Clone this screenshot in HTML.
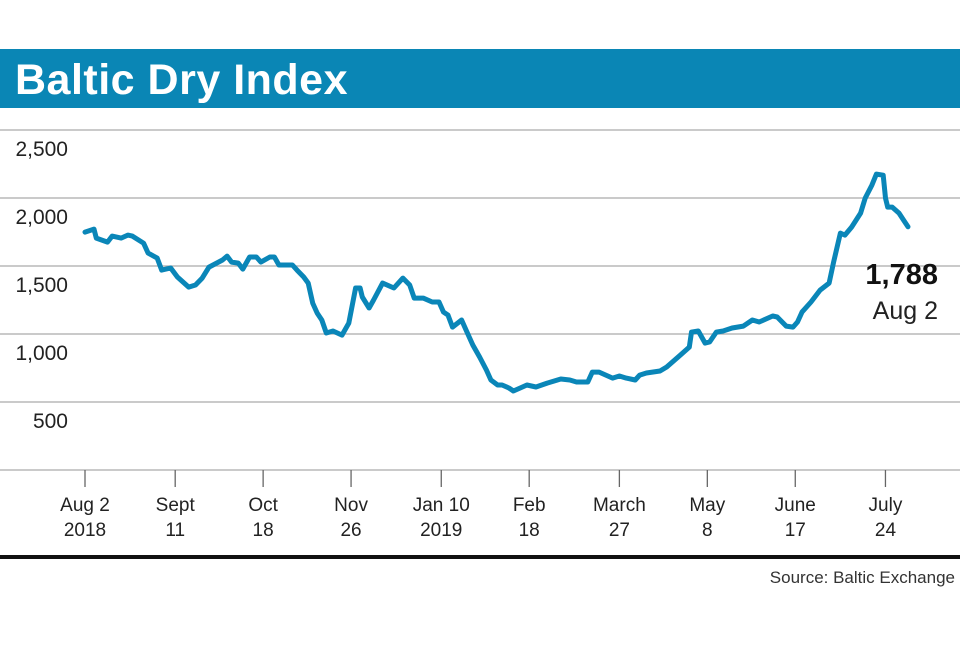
<!DOCTYPE html>
<html><head><meta charset="utf-8"><style>
body{margin:0;background:#fff;width:960px;height:640px;overflow:hidden;font-family:"Liberation Sans",sans-serif}
</style></head><body>
<svg width="960" height="640" xmlns="http://www.w3.org/2000/svg">
<rect x="0" y="49" width="960" height="59" fill="#0a86b5"/>
<text x="15" y="94" font-size="43" font-weight="bold" fill="#fff" letter-spacing="0.5">Baltic Dry Index</text>
<g id="grid"></g>
<g id="xaxis"></g>
<path id="line" fill="none" stroke="#0a86b8" stroke-width="5" stroke-linejoin="round" stroke-linecap="round"/>
<text x="938" y="284" font-size="29" font-weight="bold" fill="#111" text-anchor="end">1,788</text>
<text x="938" y="319" font-size="25" fill="#222" text-anchor="end">Aug 2</text>
<rect x="0" y="555" width="960" height="4" fill="#111"/>
<text x="955" y="583" font-size="17" fill="#333" text-anchor="end">Source: Baltic Exchange</text>
</svg>
<script>
const days=[0,4,5,10,12,16,19,21,26,28,32,34,38,41,46,49,52,55,61,63,65,68,70,73,76,78,82,84,86,92,94,97,99,101,103,105,107,110,114,117,120,122,123,126,128,132,137,141,144,146,150,154,157,159,161,163,167,169,172,175,178,180,183,185,188,190,193,196,200,205,211,215,218,223,225,228,234,237,240,244,246,249,255,258,264,268,269,272,275,277,280,283,287,292,296,299,305,307,311,314,316,318,322,326,330,332,335,337,340,344,346,349,351,354,355,356,358,361,363,365];
const values=[1749,1771,1705,1676,1720,1705,1727,1720,1668,1595,1558,1470,1485,1419,1345,1360,1411,1492,1544,1573,1529,1521,1477,1566,1566,1529,1566,1566,1507,1507,1470,1419,1374,1227,1154,1103,1007,1022,992,1080,1338,1338,1272,1191,1250,1374,1338,1411,1360,1264,1264,1235,1235,1161,1139,1051,1103,1029,919,831,735,662,625,625,603,581,603,625,610,639,669,662,647,647,720,720,676,691,676,662,698,713,728,757,845,904,1014,1022,933,941,1014,1022,1044,1058,1103,1088,1132,1125,1058,1051,1088,1161,1235,1323,1374,1529,1742,1727,1786,1889,1999,2095,2176,2168,1999,1933,1933,1889,1838,1788];
const yTicks=[500,1000,1500,2000,2500];
const yTickLabels=["500","1,000","1,500","2,000","2,500"];
const xTickDays=[0,40,79,118,158,197,237,276,315,355];
const xTickLine1=["Aug 2","Sept","Oct","Nov","Jan 10","Feb","March","May","June","July"];
const xTickLine2=["2018","11","18","26","2019","18","27","8","17","24"];
const NS="http://www.w3.org/2000/svg";
const xs=d=>85+d*(823/365);
const ys=v=>470-v*(340/2500);
const gridG=document.getElementById('grid'),xaG=document.getElementById('xaxis');
function mk(tag,attrs,parent,txt){const e=document.createElementNS(NS,tag);for(const k in attrs)e.setAttribute(k,attrs[k]);if(txt!==undefined)e.textContent=txt;parent.appendChild(e);return e;}
yTicks.forEach((v,i)=>{
  const l=mk('line',{x1:0,x2:960,y1:ys(v),y2:ys(v),stroke:'#aaa','stroke-width':1.3},gridG);
  
  
  const t=mk('text',{x:68,y:ys(v)+26,'font-size':21,fill:'#222','text-anchor':'end'},gridG,yTickLabels[i]);
  
  
});
const ax=mk('line',{x1:0,x2:960,y1:470,y2:470,stroke:'#aaa','stroke-width':1.3},xaG);


xTickDays.forEach((d,i)=>{
  const tk=mk('line',{x1:xs(d),x2:xs(d),y1:470,y2:487,stroke:'#666','stroke-width':1.3},xaG);
  
  
  const t1=mk('text',{x:xs(d),y:511,'font-size':19,fill:'#222','text-anchor':'middle'},xaG,xTickLine1[i]);
  
  
  const t2=mk('text',{x:xs(d),y:536,'font-size':19,fill:'#222','text-anchor':'middle'},xaG,xTickLine2[i]);
  
  
});
document.getElementById('line').setAttribute('d',days.map((d,i)=>(i?'L':'M')+xs(d).toFixed(1)+','+ys(values[i]).toFixed(1)).join(''));
</script>
</body></html>
